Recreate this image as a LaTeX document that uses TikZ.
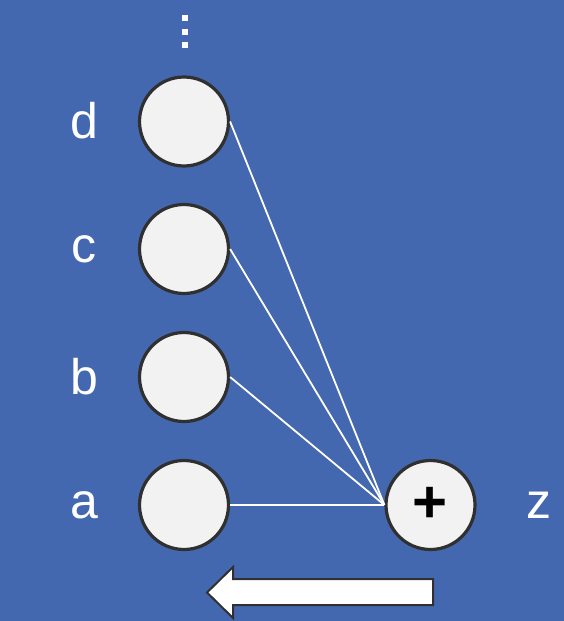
\documentclass[tikz,border=0pt]{standalone}
\usepackage{fontspec}
\setmainfont{Liberation Sans}
\usepackage{xcolor}
\usepackage{tikz}
\usetikzlibrary{arrows.meta,positioning,calc}
\definecolor{slideblue}{HTML}{4468B0}
\definecolor{cellfill}{HTML}{F2F2F2}
\definecolor{cellline}{HTML}{303030}
\tikzset{
  inputcell/.style={draw=cellline, circle, fill=cellfill, line width=3.2pt, minimum size=89pt, inner sep=0pt},
  sumcell/.style={inputcell, font=\fontsize{60}{60}\selectfont},
  varlabel/.style={text=white, inner sep=0pt, font=\fontsize{50}{50}\selectfont},
  weightline/.style={draw=white, line width=1.8pt},
  flowarrow/.style={draw=cellline, fill=white, line width=2pt, line join=miter}
}

\begin{document}
\begin{tikzpicture}[x=1pt,y=-1pt]
\fill[slideblue] (0,0) rectangle (564,621);
\useasboundingbox (0,0) rectangle (564,621);
\node[inputcell] (ina) at (184,505) {};
\node[inputcell] (inb) at (184,377) {};
\node[inputcell] (inc) at (184,249) {};
\node[inputcell] (ind) at (184,121.5) {};
\node[sumcell] (sum) at (430.5,505) {\textbf{+}};
\node[varlabel] (laba) at (84,505) {a};
\node[varlabel] (labb) at (84,377) {b};
\node[varlabel] (labc) at (84,249) {c};
\node[varlabel] (labd) at (84,121) {d};
\node[varlabel] (labz) at (539,505) {z};
% more inputs above
\foreach \y in {18,32,45}
  \fill[white] (182,\y-3) rectangle (188,\y+3);
\foreach \n in {ina,inb,inc,ind}
  \draw[weightline] (\n.east) -- (sum.west);
% direction of the pass
\draw[flowarrow] (433,579) -- (233,579) -- (233,567) -- (207,592.5) -- (233,618) -- (233,605) -- (433,605) -- cycle;
\end{tikzpicture}
\end{document}
